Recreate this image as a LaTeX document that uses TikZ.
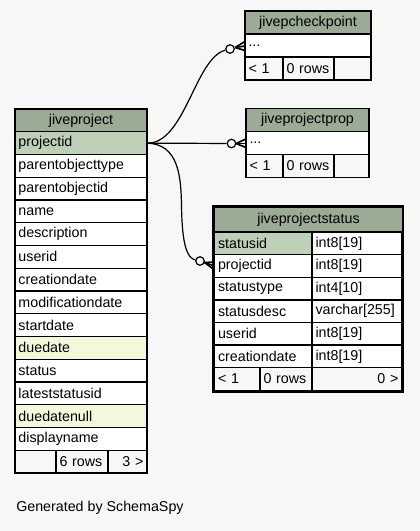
\documentclass[tikz,border=0pt]{standalone}
\usepackage{fontspec}
\setmainfont{Liberation Sans}
\usetikzlibrary{calc}
\definecolor{bgc}{HTML}{F7F7F7}
\definecolor{hdr}{HTML}{9BAB96}
\definecolor{pk}{HTML}{BED1B8}
\definecolor{idx}{HTML}{F4F7DA}
\newlength\pxu
\setlength\pxu{0.75pt}
\newcommand\tfont{\fontsize{10.7}{12}\selectfont}
\tikzset{
  cell/.style={draw=black, line width=1pt, rectangle, inner ysep=0pt, inner xsep=3.5\pxu,
    outer sep=0pt, anchor=north west, font=\tfont, align=left},
  rcell/.style={cell, align=right},
  hcell/.style={cell, align=center, fill=hdr},
  conn/.style={draw=black, line width=0.9pt},
  ring/.style={circle, draw=black, fill=bgc, line width=0.9pt, minimum size=8.5\pxu, inner sep=0pt},
  foot/.style={draw=black, line width=1.2pt},
}
\begin{document}
\begin{tikzpicture}[x=0.75pt,y=-0.75pt]
\fill[bgc] (0,0) rectangle (420,531);
\useasboundingbox (0,0) rectangle (420,531);

% ---------- jiveproject ----------
\node[hcell, text width=125\pxu, minimum height=22.75\pxu] (jp-head) at (15,109) {jiveproject};
\foreach \t/\c [count=\k] in {projectid/pk, parentobjecttype/white, parentobjectid/white, name/white,
  description/white, userid/white, creationdate/white, modificationdate/white, startdate/white,
  duedate/idx, status/white, lateststatusid/white, duedatenull/idx, displayname/white}
  \node[cell, fill=\c, text width=125\pxu, minimum height=22.75\pxu] (jp-\t) at (15,{109+\k*22.75}) {\t};
\node[cell, fill=bgc, text width=34\pxu, minimum height=22.75\pxu] (jp-f1) at (15,450.25) {};
\node[cell, fill=bgc, text width=45\pxu, minimum height=22.75\pxu] (jp-f2) at (56,450.25) {6 rows};
\node[rcell, fill=bgc, text width=32\pxu, minimum height=22.75\pxu] (jp-f3) at (108,450.25) {3 >};

% ---------- jivepcheckpoint ----------
\node[hcell, text width=119\pxu, minimum height=23\pxu] (cp-head) at (245,11) {jivepcheckpoint};
\node[cell, fill=white, text width=119\pxu, minimum height=23\pxu] (cp-row) at (245,34) {...};
\node[cell, fill=bgc, text width=31\pxu, minimum height=23\pxu] (cp-f1) at (245,57) {< 1};
\node[cell, fill=bgc, text width=44\pxu, minimum height=23\pxu] (cp-f2) at (283,57) {0 rows};
\node[cell, fill=bgc, text width=30\pxu, minimum height=23\pxu] (cp-f3) at (334,57) {};

% ---------- jiveprojectprop ----------
\node[hcell, text width=116\pxu, minimum height=23\pxu] (pp-head) at (246,108.5) {jiveprojectprop};
\node[cell, fill=white, text width=116\pxu, minimum height=23\pxu] (pp-row) at (246,131.5) {...};
\node[cell, fill=bgc, text width=30\pxu, minimum height=23\pxu] (pp-f1) at (246,154.5) {< 1};
\node[cell, fill=bgc, text width=44\pxu, minimum height=23\pxu] (pp-f2) at (283,154.5) {0 rows};
\node[cell, fill=bgc, text width=28\pxu, minimum height=23\pxu] (pp-f3) at (334,154.5) {};

% ---------- jiveprojectstatus ----------
\draw[line width=2.4pt] (213.3,206.3) rectangle (402.7,391.7);
\node[hcell, text width=181\pxu, minimum height=24.6\pxu] (ps-head) at (214.5,207.5) {jiveprojectstatus};
\foreach \n/\ty/\c [count=\k] in {statusid/int8[19]/pk, projectid/int8[19]/white, statustype/int4[10]/white,
  statusdesc/varchar[255]/white, userid/int8[19]/white, creationdate/int8[19]/white} {
  \node[cell, fill=\c, text width=90.5\pxu, minimum height=22.6\pxu] (ps-\n) at (214.5,{232.1+(\k-1)*22.6}) {\n};
  \node[cell, fill=white, text width=83\pxu, minimum height=22.6\pxu] (ps-\n-t) at (312,{232.1+(\k-1)*22.6}) {\ty};
}
\node[cell, fill=bgc, text width=38.5\pxu, minimum height=22.6\pxu] (ps-f1) at (214.5,367.7) {< 1};
\node[cell, fill=bgc, text width=45\pxu, minimum height=22.6\pxu] (ps-f2) at (260,367.7) {0 rows};
\node[rcell, fill=bgc, text width=83\pxu, minimum height=22.6\pxu] (ps-f3) at (312,367.7) {0 >};

% ---------- connectors ----------
\node[ring] (o1) at (230,49) {};
\node[ring] (o2) at (231.5,143.5) {};
\node[ring] (o3) at (200,261) {};

\draw[conn] (jp-projectid.east) .. controls (185,144) and (195,58) .. (o1);
\draw[conn] (jp-projectid.east) -- (o2);
\draw[conn] (jp-projectid.east) .. controls (178,144) and (181,175) .. (181.5,205)
  .. controls (182,245) and (187,258) .. (o3);

\coordinate (a1) at (235,47.5);
\draw[foot] (a1) -- ($(cp-row.west)+(0,-4)$);
\draw[foot] (a1) -- ($(cp-row.west)+(0,0.5)$);
\draw[foot] (a1) -- ($(cp-row.west)+(0,5)$);

\coordinate (a2) at (236,143.5);
\draw[foot] (a2) -- ($(pp-row.west)+(0,-4)$);
\draw[foot] (a2) -- ($(pp-row.west)+(0,0.5)$);
\draw[foot] (a2) -- ($(pp-row.west)+(0,4.5)$);

\coordinate (a3) at (204.5,262.5);
\draw[foot] (a3) -- ($(ps-projectid.west)+(0,-4)$);
\draw[foot] (a3) -- ($(ps-projectid.west)+(0,0)$);
\draw[foot] (a3) -- ($(ps-projectid.west)+(0,4)$);

\node[anchor=west, inner sep=0pt, font=\tfont] (gen) at (16,508) {Generated by SchemaSpy};
\end{tikzpicture}
\end{document}
